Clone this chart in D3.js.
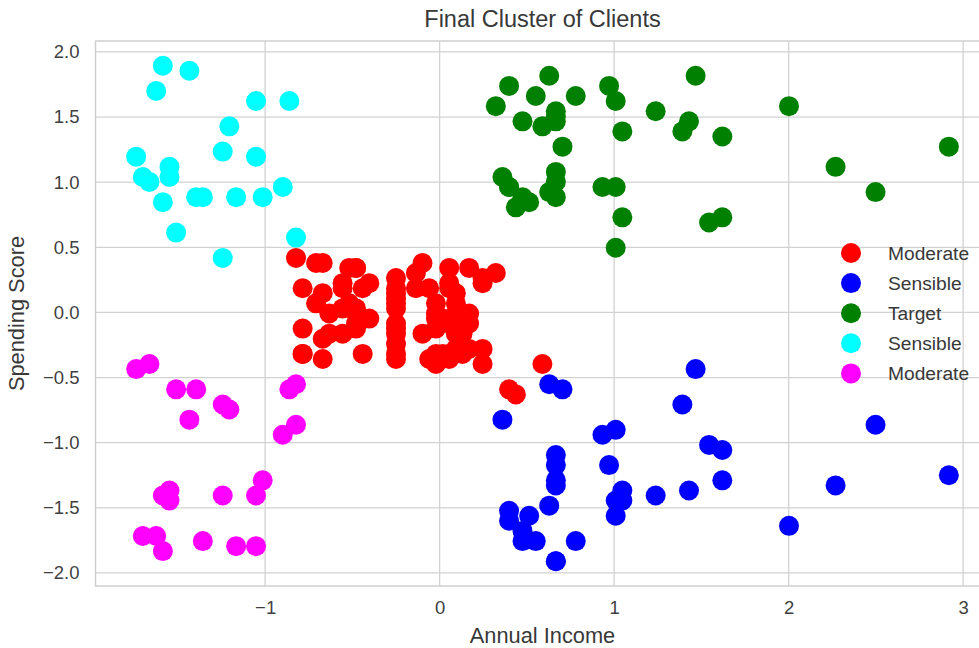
<!DOCTYPE html>
<html>
<head>
<meta charset="utf-8">
<script src="https://cdn.jsdelivr.net/npm/d3@7"></script>
<style>
    body { margin: 0; background: #fff; }
    #chart { width: 979px; height: 648px; overflow: hidden; }
    text { font-family: "Liberation Sans", Arial, sans-serif; fill: #383838; }
</style>
</head>
<body>
<div id="chart"></div>
<script>

// standardized (annual income, spending score) of each client, per cluster
let moderate = [
    [-0.823, 0.419], [-0.785, 0.186], [-0.785, -0.124], [-0.785, -0.318], [-0.785, -0.318],
    [-0.708, 0.070], [-0.708, 0.380], [-0.670, 0.148], [-0.670, 0.380], [-0.670, -0.202],
    [-0.670, -0.357], [-0.632, -0.008], [-0.632, -0.163], [-0.556, 0.031], [-0.556, -0.163],
    [-0.556, 0.225], [-0.556, 0.186], [-0.518, 0.070], [-0.518, 0.342], [-0.479, 0.031],
    [-0.479, 0.342], [-0.479, -0.008], [-0.479, -0.085], [-0.479, 0.342], [-0.479, -0.124],
    [-0.441, 0.186], [-0.441, -0.318], [-0.403, -0.047], [-0.403, 0.225], [-0.250, -0.124],
    [-0.250, 0.148], [-0.250, 0.109], [-0.250, -0.085], [-0.250, 0.070], [-0.250, -0.318],
    [-0.250, 0.031], [-0.250, 0.186], [-0.250, -0.357], [-0.250, -0.241], [-0.250, 0.264],
    [-0.250, -0.163], [-0.136, 0.303], [-0.136, 0.186], [-0.098, 0.380], [-0.098, -0.163],
    [-0.060, 0.186], [-0.060, -0.357], [-0.021, -0.047], [-0.021, -0.396], [-0.021, -0.318],
    [-0.021, 0.070], [-0.021, -0.124], [-0.021, -0.008], [0.017, -0.318], [0.017, -0.047],
    [0.055, -0.357], [0.055, -0.085], [0.055, 0.342], [0.055, 0.186], [0.055, 0.225],
    [0.055, -0.318], [0.093, -0.008], [0.093, -0.163], [0.093, -0.280], [0.093, -0.085],
    [0.093, 0.070], [0.093, 0.148], [0.131, -0.318], [0.131, -0.163], [0.169, -0.085],
    [0.169, -0.008], [0.169, -0.280], [0.169, 0.342], [0.246, -0.280], [0.246, 0.264],
    [0.246, 0.225], [0.246, -0.396], [0.322, 0.303], [0.398, -0.590], [0.437, -0.629],
    [0.589, -0.396]
];
let sensibleHigh = [
    [0.360, -0.823], [0.398, -1.522], [0.398, -1.599], [0.475, -1.755], [0.475, -1.677],
    [0.513, -1.561], [0.551, -1.755], [0.628, -1.483], [0.628, -0.551], [0.666, -1.095],
    [0.666, -1.289], [0.666, -1.172], [0.666, -1.328], [0.666, -1.910], [0.666, -1.910],
    [0.704, -0.590], [0.780, -1.755], [0.933, -0.939], [0.971, -1.172], [1.009, -0.901],
    [1.009, -1.444], [1.009, -1.561], [1.047, -1.444], [1.047, -1.367], [1.238, -1.405],
    [1.391, -0.707], [1.429, -1.367], [1.467, -0.435], [1.544, -1.017], [1.620, -1.289],
    [1.620, -1.056], [2.002, -1.638], [2.269, -1.328], [2.498, -0.862], [2.918, -1.250]
];
let target = [
    [0.322, 1.584], [0.360, 1.040], [0.398, 1.739], [0.398, 0.963], [0.398, 0.963],
    [0.437, 0.807], [0.475, 1.467], [0.475, 0.885], [0.513, 0.846], [0.551, 1.662],
    [0.589, 1.429], [0.628, 1.817], [0.628, 0.924], [0.666, 1.545], [0.666, 1.467],
    [0.666, 1.002], [0.666, 1.506], [0.666, 1.079], [0.666, 0.885], [0.704, 1.273],
    [0.780, 1.662], [0.933, 0.963], [0.971, 1.739], [1.009, 0.497], [1.009, 0.963],
    [1.009, 1.623], [1.047, 1.390], [1.047, 0.730], [1.238, 1.545], [1.391, 1.390],
    [1.429, 1.467], [1.467, 1.817], [1.544, 0.691], [1.620, 1.351], [1.620, 0.730],
    [2.002, 1.584], [2.269, 1.118], [2.498, 0.924], [2.918, 1.273]
];
let sensibleLow = [
    [-1.739, 1.196], [-1.701, 1.040], [-1.663, 1.002], [-1.624, 1.700], [-1.586, 0.846],
    [-1.586, 1.894], [-1.548, 1.040], [-1.548, 1.118], [-1.510, 0.613], [-1.434, 1.856],
    [-1.395, 0.885], [-1.357, 0.885], [-1.243, 1.235], [-1.243, 0.419], [-1.205, 1.429],
    [-1.166, 0.885], [-1.052, 1.623], [-1.052, 1.196], [-1.014, 0.885], [-0.899, 0.963],
    [-0.861, 1.623], [-0.823, 0.575]
];
let moderateLow = [
    [-1.739, -0.435], [-1.701, -1.716], [-1.663, -0.396], [-1.624, -1.716], [-1.586, -1.832],
    [-1.586, -1.405], [-1.548, -1.367], [-1.548, -1.444], [-1.510, -0.590], [-1.434, -0.823],
    [-1.395, -0.590], [-1.357, -1.755], [-1.243, -1.405], [-1.243, -0.707], [-1.205, -0.745],
    [-1.166, -1.794], [-1.052, -1.794], [-1.052, -1.405], [-1.014, -1.289], [-0.899, -0.939],
    [-0.861, -0.590], [-0.823, -0.551], [-0.823, -0.862]
];

let clusters = [moderate, sensibleHigh, target, sensibleLow, moderateLow];
let clusterNames = ["Moderate", "Sensible", "Target", "Sensible", "Moderate"];
let clusterColors = ["red", "blue", "green", "cyan", "magenta"];

let xTicks = [-1, 0, 1, 2, 3];
let yTicks = [-2.0, -1.5, -1.0, -0.5, 0.0, 0.5, 1.0, 1.5, 2.0];

// margin conventions (right side of the axes runs past the picture)
let margin = {top: 41, right: -10.5, bottom: 62, left: 95.5};
let width = 979 - margin.left - margin.right;
let height = 648 - margin.top - margin.bottom;

let svg = d3.select("#chart").append("svg")
    .attr("width", 979)
    .attr("height", 648);

let g = svg.append("g")
    .attr("transform", "translate(" + margin.left + "," + margin.top + ")");

let x = d3.scaleLinear().domain([-1.972, 3.151]).range([0, width]);
let y = d3.scaleLinear().domain([-2.100, 2.084]).range([height, 0]);

// grid
g.append("g")
    .selectAll("line.vgrid")
    .data(xTicks)
    .enter().append("line")
    .attr("x1", d => x(d)).attr("x2", d => x(d))
    .attr("y1", 0).attr("y2", height)
    .attr("stroke", "#d2d2d2").attr("stroke-width", 1.3);

g.append("g")
    .selectAll("line.hgrid")
    .data(yTicks)
    .enter().append("line")
    .attr("x1", 0).attr("x2", width)
    .attr("y1", d => y(d)).attr("y2", d => y(d))
    .attr("stroke", "#d2d2d2").attr("stroke-width", 1.3);

// axes labels (no tick marks)
let xAxis = g.append("g")
    .attr("transform", "translate(0," + height + ")")
    .call(d3.axisBottom(x).tickValues(xTicks).tickSize(0).tickPadding(15).tickFormat(d3.format("d")));
let yAxis = g.append("g")
    .call(d3.axisLeft(y).tickValues(yTicks).tickSize(0).tickPadding(16).tickFormat(d3.format(".1f")));

[xAxis, yAxis].forEach(a => {
    a.select(".domain").remove();
    a.selectAll("text")
        .style("font-size", "18.5px")
        .style("fill", "#3f3f3f")
        .style("font-family", "'Liberation Sans', Arial, sans-serif");
});

// frame
g.append("rect")
    .attr("x", 0).attr("y", 0)
    .attr("width", width).attr("height", height)
    .attr("fill", "none")
    .attr("stroke", "#cfcfcf")
    .attr("stroke-width", 1.5);

// points
clusters.forEach((pts, i) => {
    g.append("g")
        .selectAll("circle")
        .data(pts)
        .enter().append("circle")
        .attr("cx", d => x(d[0]))
        .attr("cy", d => y(d[1]))
        .attr("r", 10)
        .style("fill", clusterColors[i]);
});

// title and axis titles
svg.append("text")
    .text("Final Cluster of Clients")
    .attr("x", margin.left + width / 2)
    .attr("y", 27)
    .attr("text-anchor", "middle")
    .style("font-size", "23.5px");

svg.append("text")
    .text("Annual Income")
    .attr("x", margin.left + width / 2)
    .attr("y", 643)
    .attr("text-anchor", "middle")
    .style("font-size", "21.8px");

svg.append("text")
    .text("Spending Score")
    .attr("transform", "translate(24," + (margin.top + height / 2) + ") rotate(-90)")
    .attr("text-anchor", "middle")
    .style("font-size", "21.8px");

// legend
let legend = svg.append("g")
    .attr("transform", "translate(851,253)");

legend.selectAll("circle")
    .data(clusterNames)
    .enter().append("circle")
    .attr("cx", 0)
    .attr("cy", (d, i) => i * 30.1)
    .attr("r", 10)
    .style("fill", (d, i) => clusterColors[i]);

legend.selectAll("text")
    .data(clusterNames)
    .enter().append("text")
    .attr("x", 37)
    .attr("y", (d, i) => i * 30.1)
    .attr("dominant-baseline", "central")
    .text(d => d)
    .style("font-size", "19.2px");

</script>
</body>
</html>
